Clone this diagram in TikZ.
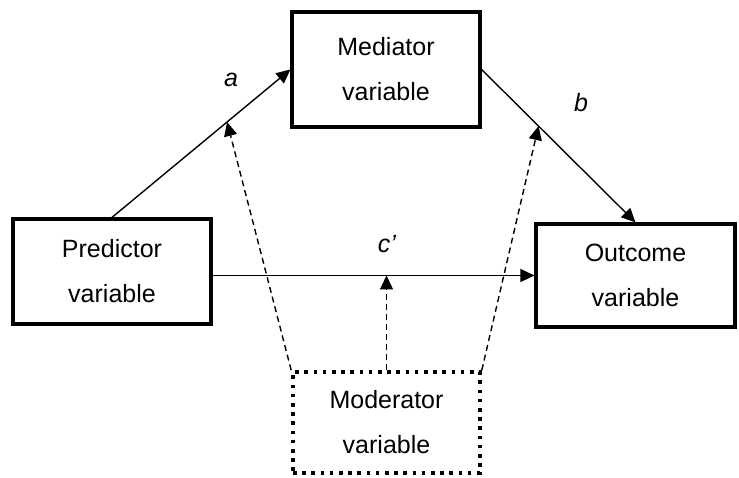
\documentclass[tikz,border=0pt]{standalone}
\usepackage{fontspec}
\setmainfont{Liberation Sans}
\usetikzlibrary{arrows.meta}

\begin{document}
\begin{tikzpicture}[x=1pt,y=-1pt,
  every node/.style={font=\fontsize{25}{45}\selectfont},
  box/.style={draw, line width=3.2pt, align=center, inner sep=0pt},
  link/.style={line width=1.4pt, -{Triangle[length=14pt,width=13pt]}},
  modlink/.style={link, dash pattern=on 6pt off 4pt},
  lbl/.style={font=\fontsize{25}{30}\selectfont\itshape}]
\useasboundingbox (0,0) rectangle (739,478);
\node[box, minimum width=188pt, minimum height=115pt] (med)  at (386,69.5)  {Mediator\\variable};
\node[box, minimum width=198pt, minimum height=105pt] (pred) at (112,271.5) {Predictor\\variable};
\node[box, minimum width=199pt, minimum height=103pt] (outc) at (635.5,275.5) {Outcome\\variable};
\node[box, minimum width=187pt, minimum height=101pt,
      line width=3.6pt, dash pattern=on 3.6pt off 5.6pt] (mod) at (386.5,422.5) {Moderator\\variable};
% paths a, b and c'
\draw[link] (pred.north) -- coordinate[pos=.645] (ma) (med.west);
\draw[link] (med.east) -- coordinate[pos=.37] (mb) (outc.north);
\draw[link] (pred.east |- outc.west) -- (outc.west);
\node[lbl] (la) at (231,80) {a};
\node[lbl] (lb) at (581,103) {b};
\node[lbl] (lc) at (387,244) {c’};
% moderation
\draw[modlink] (mod.north west) -- (ma);
\draw[modlink] (mod.north) -- (mod.north |- outc.west);
\draw[modlink] (mod.north east) -- (mb);
\end{tikzpicture}
\end{document}
